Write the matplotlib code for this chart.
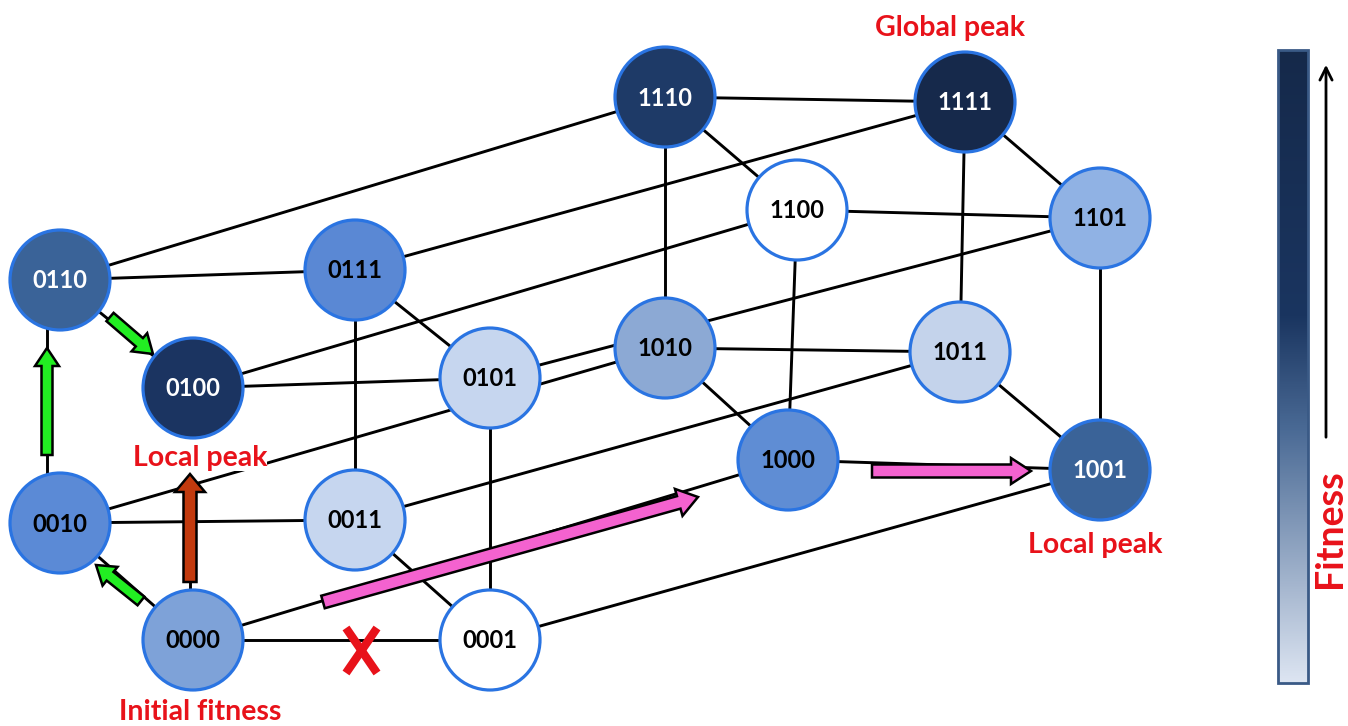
import matplotlib
matplotlib.use("Agg")
from matplotlib import pyplot as plt
from matplotlib.patches import Circle, FancyArrow, Rectangle
from matplotlib.colors import LinearSegmentedColormap
import numpy as np

# genotypes and their fitness colours (darker = fitter)
genotypes = ['0000', '0001', '0010', '0011', '0100', '0101', '0110', '0111',
             '1000', '1001', '1010', '1011', '1100', '1101', '1110', '1111']
fill_colors = ['#7ea2d8', '#ffffff', '#5b8ad6', '#c6d6ef', '#1b3461', '#c6d6ef', '#3a6398', '#5a88d4',
               '#5f8dd4', '#3a6398', '#8ca9d4', '#c4d3eb', '#ffffff', '#90b2e4', '#1e3a67', '#16294b']
text_colors = ['black', 'black', 'black', 'black', 'white', 'black', 'white', 'black',
               'black', 'white', 'black', 'black', 'black', 'black', 'white', 'white']

# layout of the hypercube drawing (pixel coords, y down)
pos = {
    '0110': (60, 280), '0100': (193, 388), '0010': (60, 523), '0000': (193, 640),
    '0111': (355, 270), '0101': (490, 378), '0011': (355, 520), '0001': (490, 640),
    '1110': (665, 97), '1111': (965, 102), '1100': (797, 210), '1101': (1100, 218),
    '1010': (665, 348), '1011': (960, 352), '1000': (788, 460), '1001': (1100, 470),
}

peak_labels = [('Global peak', 950, 28), ('Local peak', 1095, 545),
               ('Local peak', 200, 458), ('Initial fitness', 200, 712)]

fig = plt.figure(figsize=(13.48, 7.26), dpi=100)
ax = fig.add_axes([0, 0, 1, 1])
ax.set_xlim(0, 1348)
ax.set_ylim(726, 0)
ax.axis('off')

R = 50
lw_edge = 2.1

# edges: genotypes one mutation apart
for i, a in enumerate(genotypes):
    for b in genotypes[i + 1:]:
        if sum(c1 != c2 for c1, c2 in zip(a, b)) == 1:
            (x1, y1), (x2, y2) = pos[a], pos[b]
            if {a, b} == {'0110', '0010'}:
                x1 = x2 = 47
            if {a, b} == {'0100', '0000'}:
                # hidden under the red arrow, not drawn above the label
                x1 = x2 = 190
                y1, y2 = 480, pos['0000'][1]
            ax.plot([x1, x2], [y1, y2], color='black', lw=lw_edge, zorder=1,
                    solid_capstyle='butt')

# arrows (mutational steps)
def arrow(x0, y0, x1, y1, color, w, hw, hl):
    ax.add_patch(FancyArrow(x0, y0, x1 - x0, y1 - y0, width=w, head_width=hw,
                            head_length=hl, length_includes_head=True,
                            facecolor=color, edgecolor='black', lw=1.8, zorder=3))

green = '#22ee22'
pink = '#f462cf'
arrow(47, 455, 47, 348, green, 11, 24, 18)
arrow(110, 317, 153, 354, green, 11, 24, 18)
arrow(141, 601, 96, 565, green, 11, 24, 18)
arrow(190, 582, 190, 474, '#c23a0e', 13, 30, 18)
arrow(323, 602, 698, 497, pink, 13, 28, 20)
arrow(872, 471, 1031, 471, pink, 13, 26, 20)

# nodes
for g, fc, tc in zip(genotypes, fill_colors, text_colors):
    x, y = pos[g]
    ax.add_patch(Circle((x, y), R, facecolor=fc, edgecolor='#2a74e2', lw=2.3, zorder=4))
    ax.text(x, y + 1, g, ha='center', va='center', color=tc, fontsize=17,
            fontweight='bold', family='Lato', zorder=5)

# red X on the blocked step
ax.plot([346, 377], [628, 673], color='#e8121a', lw=6, zorder=3, solid_capstyle='butt')
ax.plot([377, 346], [628, 673], color='#e8121a', lw=6, zorder=3, solid_capstyle='butt')

for txt, x, y in peak_labels:
    ax.text(x, y, txt, ha='center', va='center', color='#e8121a', fontsize=20.5,
            fontweight='bold', family='Lato', zorder=6,
            bbox=dict(facecolor='white', edgecolor='none', pad=0))

# fitness scale bar
cmap = LinearSegmentedColormap.from_list(
    'fit', [(0, '#15294a'), (0.42, '#1a3560'), (0.6, '#4a6a95'), (1, '#dde5f2')])
grad = np.linspace(0, 1, 256).reshape(-1, 1)
ax.imshow(grad, cmap=cmap, extent=(1278, 1308, 683, 50), aspect='auto', zorder=2)
ax.add_patch(Rectangle((1278, 50), 30, 633, fill=False, edgecolor='#3a5a86', lw=2, zorder=3))
ax.annotate('', xy=(1326, 62), xytext=(1326, 440),
            arrowprops=dict(arrowstyle='->', color='black', lw=2, mutation_scale=22))
ax.text(1330, 529, 'Fitness', rotation=90, ha='center', va='center', color='#e8121a',
        fontsize=27, fontweight='bold', family='Lato')

fig.savefig('out.png', dpi=100)
